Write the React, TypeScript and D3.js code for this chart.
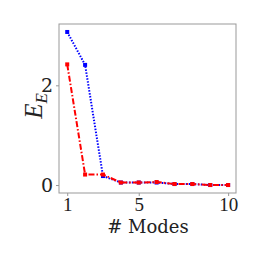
import { useEffect, useRef } from 'react'
import * as d3 from 'd3'

const modes = [1, 2, 3, 4, 5, 6, 7, 8, 9, 10]
const blueValues = [3.07, 2.41, 0.18, 0.05, 0.05, 0.05, 0.02, 0.02, 0.0, 0.0]
const redValues = [2.42, 0.21, 0.21, 0.05, 0.05, 0.06, 0.02, 0.02, 0.0, 0.0]
const xTicks = [1, 5, 10]
const yTicks = [0, 2]

const serif = 'DejaVu Serif'
const serif2 = 'Liberation Serif'

export default function App() {
  const ref = useRef<SVGSVGElement>(null)

  const margins = { top: 24, right: 26, bottom: 69, left: 59 }
  const W = 262
  const H = 262
  const width = W - margins.left - margins.right
  const height = H - margins.top - margins.bottom

  useEffect(() => {
    if (!ref.current) return
    const svg = d3.select(ref.current)
    svg.selectAll('*').remove()

    const g = svg.append('g').attr('transform', `translate(${margins.left},${margins.top})`)

    const x = d3.scaleLinear().domain([0.54, 10.44]).range([0, width])
    const y = d3.scaleLinear().domain([-0.16, 3.23]).range([height, 0])

    // frame
    g.append('rect')
      .attr('width', width)
      .attr('height', height)
      .attr('fill', 'none')
      .attr('stroke', '#999')
      .attr('stroke-width', 1)

    // x axis
    const xAxis = g
      .append('g')
      .attr('transform', `translate(0,${height})`)
      .call(d3.axisBottom(x).tickValues(xTicks).tickSize(3).tickPadding(2).tickFormat(d3.format('d')))
    xAxis.select('.domain').remove()
    xAxis.selectAll('line').attr('stroke', '#999')
    xAxis.selectAll('text').attr('font-family', serif2).attr('font-size', 19).attr('fill', '#222')

    // y axis
    const yAxis = g
      .append('g')
      .call(d3.axisLeft(y).tickValues(yTicks).tickSize(3).tickPadding(3).tickFormat(d3.format('d')))
    yAxis.select('.domain').remove()
    yAxis.selectAll('line').attr('stroke', '#999')
    yAxis.selectAll('text').attr('font-family', serif).attr('font-size', 19).attr('fill', '#222')

    const blue = modes.map((m, i) => ({ m, v: blueValues[i] }))
    const red = modes.map((m, i) => ({ m, v: redValues[i] }))
    const line = d3
      .line<{ m: number; v: number }>()
      .x((d) => x(d.m))
      .y((d) => y(d.v))

    // blue dotted
    g.append('path')
      .datum(blue)
      .attr('d', line)
      .attr('fill', 'none')
      .attr('stroke', '#0000ff')
      .attr('stroke-width', 2)
      .attr('stroke-dasharray', '1.5,1.5')
    g.selectAll('.bm')
      .data(blue)
      .enter()
      .append('rect')
      .attr('x', (d) => x(d.m) - 2)
      .attr('y', (d) => y(d.v) - 2)
      .attr('width', 4)
      .attr('height', 4)
      .attr('fill', '#0000ff')

    // red dash-dot
    g.append('path')
      .datum(red)
      .attr('d', line)
      .attr('fill', 'none')
      .attr('stroke', '#ff0000')
      .attr('stroke-width', 2)
      .attr('stroke-dasharray', '6,2,1.5,2')
    g.selectAll('.rm')
      .data(red)
      .enter()
      .append('rect')
      .attr('x', (d) => x(d.m) - 2)
      .attr('y', (d) => y(d.v) - 2)
      .attr('width', 4)
      .attr('height', 4)
      .attr('fill', '#ff0000')

    // x label
    svg
      .append('text')
      .attr('x', 148)
      .attr('y', 233)
      .attr('text-anchor', 'middle')
      .attr('font-family', serif)
      .attr('font-size', 18)
      .attr('fill', '#222')
      .text('# Modes')

    // y label
    const yl = svg
      .append('text')
      .attr('transform', 'translate(42,106) rotate(-90)')
      .attr('text-anchor', 'middle')
      .attr('font-family', serif2)
      .attr('font-style', 'italic')
      .attr('font-size', 25)
      .attr('fill', '#222')
    yl.append('tspan').text('E')
    yl.append('tspan').attr('dy', 5).attr('font-size', 17).text('E')
  }, [])

  return (
    <svg ref={ref} width={W} height={H} style={{ display: 'block', margin: '-8px' }} />
  )
}
